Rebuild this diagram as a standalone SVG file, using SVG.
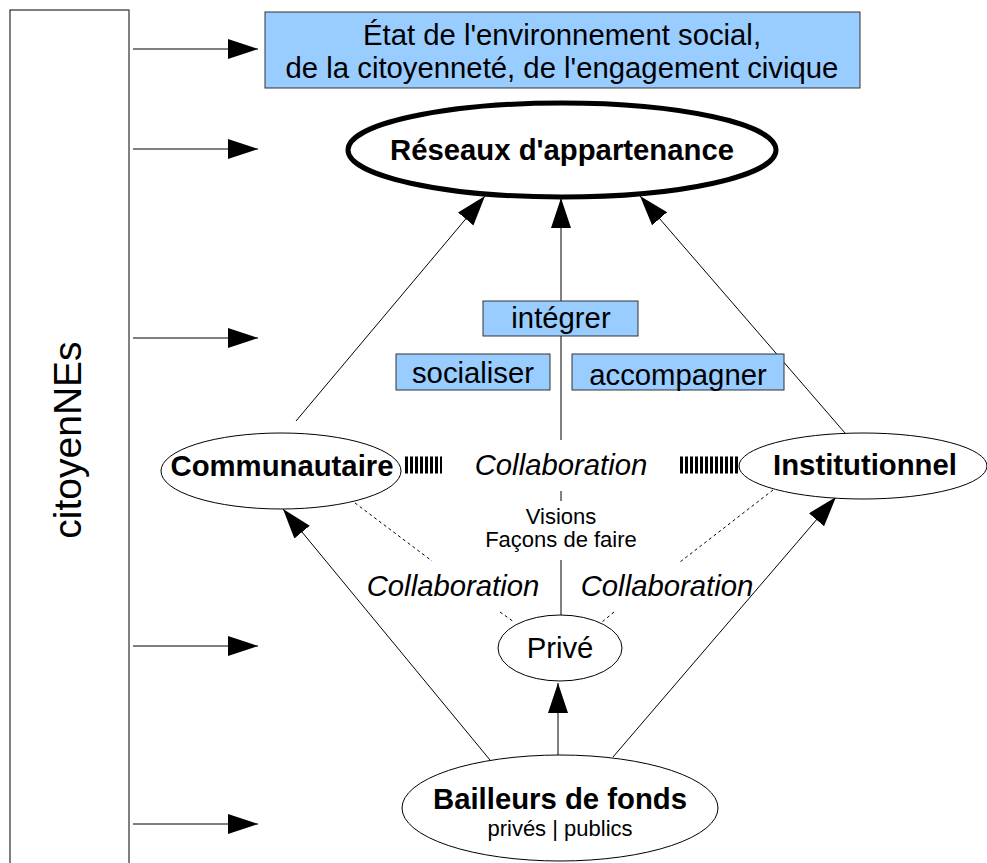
<svg xmlns="http://www.w3.org/2000/svg" width="987" height="863" viewBox="0 0 987 863">
<defs>
<style>
text{font-family:"Liberation Sans",Arial,sans-serif;fill:#000;text-anchor:middle}
.b{font-weight:bold}
.i{font-style:italic}
.big{font-size:29.3px}
.sm{font-size:22px}
.box{fill:#99ccff;stroke:#333;stroke-width:1}
.ell{fill:#fff;stroke:#000;stroke-width:1}
.ln{stroke:#000;stroke-width:1;fill:none}
.gl{stroke:#808080;stroke-width:2;fill:none}
.dt{stroke:#000;stroke-width:1;stroke-dasharray:3 3;fill:none}
.hatch{stroke:#000;stroke-width:17;stroke-dasharray:3 2;fill:none}
</style>
<marker id="ah" markerUnits="userSpaceOnUse" markerWidth="32" markerHeight="22" refX="30" refY="10" orient="auto">
<path d="M0,0 L30,10 L0,20 Z" fill="#000"/>
</marker>
</defs>
<rect x="0" y="0" width="987" height="863" fill="#fff"/>

<g id="citoyennes">
<rect x="10" y="10" width="119" height="870" fill="#fff" stroke="#000" stroke-width="1"/>
<line x1="129" y1="10" x2="129" y2="863" stroke="#808080" stroke-width="1"/>
<text x="0" y="0" font-size="39" transform="translate(81,440) rotate(-90)">citoyenNEs</text>
</g>

<g id="connectors">
<line class="ln" x1="133" y1="49" x2="258" y2="49" marker-end="url(#ah)"/>
<line class="ln" x1="133" y1="149" x2="258" y2="149" marker-end="url(#ah)"/>
<line class="ln" x1="133" y1="338" x2="258" y2="338" marker-end="url(#ah)"/>
<line class="ln" x1="133" y1="646" x2="258" y2="646" marker-end="url(#ah)"/>
<line class="ln" x1="133" y1="824" x2="258" y2="824" marker-end="url(#ah)"/>
<line class="gl" x1="561" y1="440" x2="561" y2="198" marker-end="url(#ah)"/>
<line class="ln" x1="296" y1="421" x2="485" y2="196" marker-end="url(#ah)"/>
<line class="ln" x1="845" y1="433" x2="640" y2="196" marker-end="url(#ah)"/>
<line class="gl" x1="561" y1="491" x2="561" y2="501"/>
<line class="gl" x1="561" y1="560" x2="561" y2="615"/>
<line class="hatch" x1="405" y1="465" x2="442" y2="465"/>
<line class="hatch" x1="680" y1="465" x2="739" y2="465"/>
<line class="dt" x1="355" y1="503" x2="432" y2="561"/>
<line class="dt" x1="500" y1="612" x2="514" y2="622"/>
<line class="dt" x1="773" y1="490" x2="680" y2="562"/>
<line class="dt" x1="614" y1="612" x2="602" y2="622"/>
<line class="ln" x1="558" y1="755" x2="558" y2="683" marker-end="url(#ah)"/>
<line class="ln" x1="490" y1="760" x2="283" y2="509" marker-end="url(#ah)"/>
<line class="ln" x1="613" y1="757" x2="836" y2="497" marker-end="url(#ah)"/>
</g>

<g id="etat">
<rect class="box" x="265" y="12" width="595" height="76"/>
<text class="big" x="562" y="45">État de l'environnement social,</text>
<text class="big" x="562" y="78">de la citoyenneté, de l'engagement civique</text>
</g>

<g id="reseaux">
<ellipse cx="562" cy="150" rx="214" ry="47" fill="#fff" stroke="#000" stroke-width="5"/>
<text class="b big" x="562" y="160">Réseaux d'appartenance</text>
</g>

<g id="integrer">
<rect class="box" x="483" y="301" width="155" height="35"/>
<text class="big" x="561" y="328">intégrer</text>
</g>
<g id="socialiser">
<rect class="box" x="396" y="354" width="154" height="36"/>
<text class="big" x="473" y="383">socialiser</text>
</g>
<g id="accompagner">
<rect class="box" x="572" y="354" width="212" height="36"/>
<text class="big" x="678" y="385">accompagner</text>
</g>

<g id="communautaire">
<ellipse class="ell" cx="281" cy="471" rx="120" ry="38"/>
<text class="b big" x="282" y="476">Communautaire</text>
</g>
<g id="institutionnel">
<ellipse class="ell" cx="863" cy="466" rx="124" ry="33"/>
<text class="b big" x="865" y="475">Institutionnel</text>
</g>

<g id="collab-center">
<text class="i big" x="561" y="475">Collaboration</text>
<text class="sm" x="561" y="524">Visions</text>
<text class="sm" x="561" y="547">Façons de faire</text>
</g>
<g id="collab-left"><text class="i big" x="453" y="596">Collaboration</text></g>
<g id="collab-right"><text class="i big" x="667" y="596">Collaboration</text></g>

<g id="prive">
<ellipse class="ell" cx="560" cy="648" rx="62" ry="33"/>
<text class="big" x="560" y="658">Privé</text>
</g>

<g id="bailleurs">
<ellipse class="ell" cx="560" cy="808" rx="158" ry="53"/>
<text class="b big" x="560" y="809">Bailleurs de fonds</text>
<text class="sm" x="560" y="836">privés | publics</text>
</g>
</svg>
